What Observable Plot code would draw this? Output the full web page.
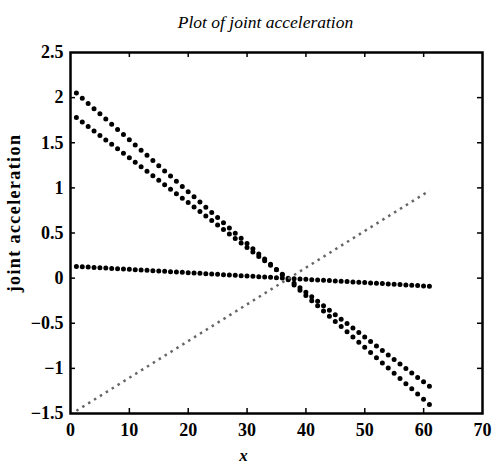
<!DOCTYPE html>
<html><head><meta charset="utf-8">
<script src="https://cdn.jsdelivr.net/npm/d3@7"></script>
<script src="https://cdn.jsdelivr.net/npm/@observablehq/plot@0.6"></script>
<style>
body{margin:0;background:#fff}
svg{display:block}
svg text{font-family:"Liberation Serif","Times New Roman",serif !important}
</style>
</head><body><div id="chart"></div>
<script>
const title = "Plot of joint acceleration";
const xLabel = "x";
const yLabel = "joint acceleration";
const xTicks = [0, 10, 20, 30, 40, 50, 60, 70];
const yTicks = [-1.5, -1, -0.5, 0, 0.5, 1, 1.5, 2, 2.5];
const seriesNames = ["joint 1", "joint 2", "joint 3", "joint 4"];
// endpoints of each straight dotted series
const seriesX = [[1, 61], [1, 61], [1, 61], [1, 61]];
const seriesY = [[2.05, -1.40], [1.78, -1.20], [0.13, -0.09], [-1.47, 0.97]];

const W = 495, H = 465;
const mT = 52, mB = 52, mL = 70, mR = 13;
const plotW = W - mL - mR, plotH = H - mT - mB;
const xDom = [0, 70], yDom = [-1.5, 2.5];
const font = "Liberation Serif";

const styles = [
  {stroke: "black", width: 5, dot: 0, cap: "round"},
  {stroke: "black", width: 5, dot: 0, cap: "round"},
  {stroke: "black", width: 5, dot: 0, cap: "round"},
  {stroke: "#666", width: 2.5, dot: 2.5, cap: "butt"}
];

const lineMarks = seriesNames.map((name, i) => {
  const rows = seriesX[i].map((x, j) => ({series: name, x, y: seriesY[i][j]}));
  // spacing between dots: one dot per x unit along the line
  const dxPx = (seriesX[i][1] - seriesX[i][0]) * plotW / (xDom[1] - xDom[0]);
  const dyPx = (seriesY[i][1] - seriesY[i][0]) * plotH / (yDom[1] - yDom[0]);
  const n = seriesX[i][1] - seriesX[i][0];
  const L = Math.hypot(dxPx, dyPx) / n * 0.9997;
  const s = styles[i];
  return Plot.line(rows, {
    x: "x", y: "y", stroke: s.stroke, strokeWidth: s.width,
    strokeLinecap: s.cap, strokeDasharray: `${s.dot} ${L - s.dot}`
  });
});

const fmt = d => (d < 0 ? "\u2212" : "") + String(Math.abs(d));

const chart = Plot.plot({
  width: W, height: H,
  marginTop: mT, marginBottom: mB, marginLeft: mL, marginRight: mR,
  style: {fontFamily: font, background: "white"},
  x: {domain: xDom},
  y: {domain: yDom},
  marks: [
    ...lineMarks,
    Plot.axisX(xTicks, {tickSize: 0, tickPadding: 10, fontSize: 18, fontWeight: "bold", label: null, tickFormat: fmt, fill: "black"}),
    Plot.axisY(yTicks, {tickSize: 0, tickPadding: 7, fontSize: 18, fontWeight: "bold", label: null, tickFormat: fmt, fill: "black"}),
    Plot.tickX(xTicks.slice(1, -1), {x: d => d, insetTop: plotH - 5, stroke: "black", strokeWidth: 1.5}),
    Plot.tickX(xTicks.slice(1, -1), {x: d => d, insetBottom: plotH - 5, stroke: "black", strokeWidth: 1.5}),
    Plot.tickY(yTicks.slice(1, -1), {y: d => d, insetRight: plotW - 5, stroke: "black", strokeWidth: 1.5}),
    Plot.tickY(yTicks.slice(1, -1), {y: d => d, insetLeft: plotW - 5, stroke: "black", strokeWidth: 1.5}),
    Plot.frame({stroke: "black", strokeWidth: 2.5}),
    Plot.text([title], {frameAnchor: "top", dy: -37, dx: -11, fontSize: 17.5, fontStyle: "italic", fill: "black"}),
    Plot.text([yLabel], {frameAnchor: "left", dx: -56, dy: -20, rotate: -90, textAnchor: "middle", lineAnchor: "middle", fontWeight: "bold", fontSize: 18, fill: "black"}),
    Plot.text([xLabel], {frameAnchor: "bottom", dy: 42, dx: -33, lineAnchor: "middle", fontWeight: "bold", fontStyle: "italic", fontSize: 17, fill: "black"})
  ]
});
d3.select(chart).selectAll("text").filter(function() { return this.textContent === yLabel; }).style("letter-spacing", "1.4px");
document.getElementById("chart").appendChild(chart);
</script>
</body></html>
